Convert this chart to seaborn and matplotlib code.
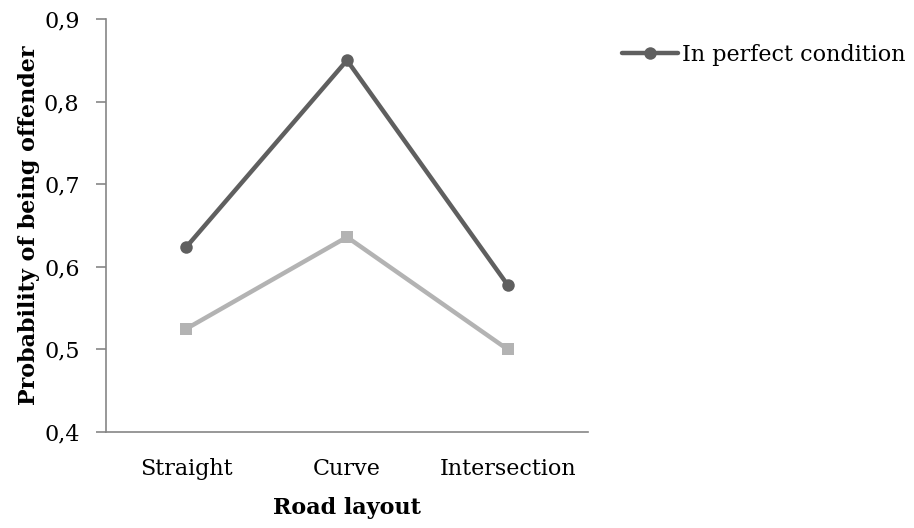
import matplotlib
matplotlib.use("Agg")
import matplotlib.pyplot as plt
import matplotlib.ticker as mticker
import seaborn as sns
import pandas as pd

layouts = ["Straight", "Curve", "Intersection"]
perfect = [0.624, 0.850, 0.578]
other = [0.525, 0.636, 0.500]
series_names = ["In perfect condition", "Other condition"]
y_ticks = [0.4, 0.5, 0.6, 0.7, 0.8, 0.9]

df = pd.DataFrame({
    "layout": layouts * 2,
    "prob": perfect + other,
    "series": [series_names[0]] * 3 + [series_names[1]] * 3,
})

sns.set_style("white")
plt.rcParams["font.family"] = ["DejaVu Serif"]
plt.rcParams["text.color"] = "black"
plt.rcParams["axes.labelcolor"] = "black"
plt.rcParams["xtick.color"] = "black"
plt.rcParams["ytick.color"] = "black"

FS = 16

fig = plt.figure(figsize=(9.14, 5.28), dpi=100)
ax = fig.add_axes([106 / 914, 1 - 432 / 528, (588 - 106) / 914, (432 - 19) / 528])

sns.lineplot(
    data=df, x="layout", y="prob", hue="series", style="series",
    palette={series_names[0]: "#5f5f5f", series_names[1]: "#b3b3b3"},
    markers={series_names[0]: "o", series_names[1]: "s"},
    dashes=False, linewidth=3.2, markersize=9, markeredgewidth=0,
    ax=ax, legend=False,
)

ax.set_xlim(-0.5, 2.5)
ax.set_ylim(0.4, 0.9)
ax.set_yticks(y_ticks)
ax.yaxis.set_major_formatter(mticker.FuncFormatter(lambda v, p: f"{v:.1f}".replace(".", ",")))

for s in ["top", "right"]:
    ax.spines[s].set_visible(False)
for s in ["left", "bottom"]:
    ax.spines[s].set_color("#868686")
    ax.spines[s].set_linewidth(1.2)

ax.tick_params(axis="y", which="major", direction="out", length=7, width=1.2,
               color="#868686", labelcolor="black", labelsize=FS, pad=12, left=True)
ax.tick_params(axis="x", length=0, labelsize=FS, labelcolor="black", pad=19)

ax.set_xlabel("Road layout", fontsize=FS, fontweight="bold", labelpad=12)
ax.set_ylabel("Probability of being offender", fontsize=FS, fontweight="bold", labelpad=3)

handle = plt.Line2D([], [], color="#5f5f5f", marker="o", linewidth=3.2,
                    markersize=9, markeredgewidth=0)
fig.legend([handle], [series_names[0]], loc="upper left",
           bbox_to_anchor=(622 / 914, 1 - 44 / 528), frameon=False,
           fontsize=FS, handlelength=2.5, handletextpad=0.2, borderaxespad=0,
           borderpad=0)

fig.savefig("out.png", dpi=100, facecolor="white")
